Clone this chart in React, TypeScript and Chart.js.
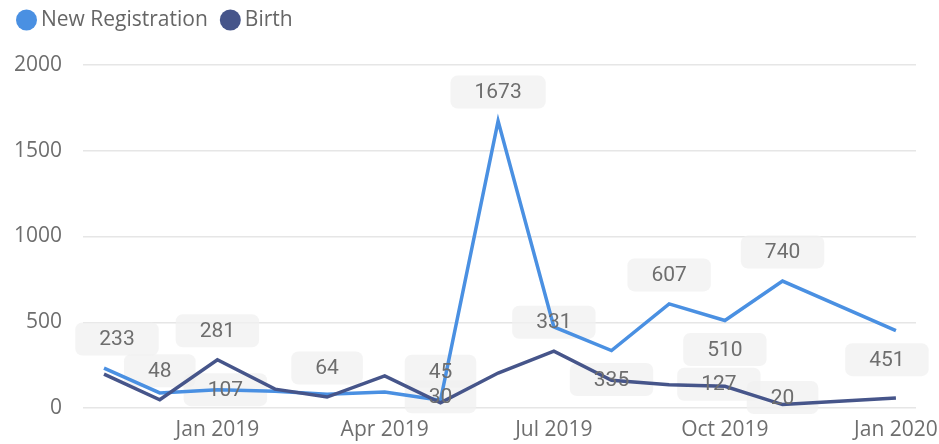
import React, { useEffect, useRef } from 'react';
import { Chart, registerables } from 'chart.js';

Chart.register(...registerables);

// ---- data ----
const months = [
  '2018-11', '2018-12', '2019-01', '2019-02', '2019-03', '2019-04', '2019-05',
  '2019-06', '2019-07', '2019-08', '2019-09', '2019-10', '2019-11', '2020-01',
];
const newRegistration = [233, 88, 107, 98, 80, 93, 45, 1673, 473, 335, 607, 510, 740, 451];
const birth = [197, 48, 281, 110, 64, 187, 30, 204, 331, 162, 135, 127, 20, 58];
const seriesNames = ['New Registration', 'Birth'];
const yTickValues = [0, 500, 1000, 1500, 2000];
const xTickMonths = ['2019-01', '2019-04', '2019-07', '2019-10', '2020-01'];
const xTickLabels = ['Jan 2019', 'Apr 2019', 'Jul 2019', 'Oct 2019', 'Jan 2020'];

// ---- style ----
const COLORS = ['#4a90e2', '#46558a'];
const TEXT = '#6e6e6e';
const DAY = 86400000;
const toTime = (m: string) => {
  const [y, mo] = m.split('-').map(Number);
  return Date.UTC(y, mo - 1, 1);
};

// which point labels are shown and how they are placed (style only)
const LABELS: { ds: number; i: number; place: 'above' | 'below' | 'center'; dx?: number; dy?: number }[] = [
  { ds: 0, i: 0, place: 'above', dx: 13 },
  { ds: 1, i: 1, place: 'above' },
  { ds: 1, i: 2, place: 'above' },
  { ds: 0, i: 2, place: 'center', dx: 8 },
  { ds: 1, i: 4, place: 'above' },
  { ds: 0, i: 6, place: 'above' },
  { ds: 1, i: 6, place: 'center', dy: -6 },
  { ds: 0, i: 7, place: 'above' },
  { ds: 1, i: 8, place: 'above' },
  { ds: 0, i: 9, place: 'below' },
  { ds: 0, i: 10, place: 'above' },
  { ds: 0, i: 11, place: 'below' },
  { ds: 1, i: 11, place: 'center', dx: -6, dy: -2 },
  { ds: 0, i: 12, place: 'above' },
  { ds: 1, i: 12, place: 'center', dy: -7 },
  { ds: 0, i: 13, place: 'below', dx: -9 },
];
const LABEL_FONT = '400 21px Roboto';
const BOX_H = 33;
const BOX_PAD = 24;

function labelRects(chart: any) {
  const ctx = chart.ctx;
  ctx.save();
  ctx.font = LABEL_FONT;
  const out = LABELS.map((l) => {
    const el = chart.getDatasetMeta(l.ds).data[l.i];
    const value = chart.data.datasets[l.ds].data[l.i].y;
    const text = String(value);
    const w = ctx.measureText(text).width + BOX_PAD * 2;
    const off = l.place === 'above' ? -29 : l.place === 'below' ? 29 : 0;
    const cx = el.x + (l.dx || 0);
    const cy = el.y + off + (l.dy || 0);
    return { text, cx, cy, w };
  });
  ctx.restore();
  return out;
}

function roundRect(ctx: CanvasRenderingContext2D, x: number, y: number, w: number, h: number, r: number) {
  ctx.beginPath();
  ctx.moveTo(x + r, y);
  ctx.lineTo(x + w - r, y);
  ctx.arcTo(x + w, y, x + w, y + r, r);
  ctx.lineTo(x + w, y + h - r);
  ctx.arcTo(x + w, y + h, x + w - r, y + h, r);
  ctx.lineTo(x + r, y + h);
  ctx.arcTo(x, y + h, x, y + h - r, r);
  ctx.lineTo(x, y + r);
  ctx.arcTo(x, y, x + r, y, r);
  ctx.closePath();
}

const labelPlugin = {
  id: 'pointLabels',
  beforeDatasetsDraw(chart: any) {
    const ctx = chart.ctx;
    ctx.save();
    ctx.fillStyle = 'rgba(240,240,240,0.75)';
    for (const r of labelRects(chart)) {
      roundRect(ctx, r.cx - r.w / 2, r.cy - BOX_H / 2, r.w, BOX_H, 7);
      ctx.fill();
    }
    ctx.restore();
  },
  afterDatasetsDraw(chart: any) {
    const ctx = chart.ctx;
    ctx.save();
    ctx.font = LABEL_FONT;
    ctx.fillStyle = TEXT;
    ctx.textAlign = 'center';
    ctx.textBaseline = 'middle';
    for (const r of labelRects(chart)) {
      ctx.fillText(r.text, r.cx, r.cy + 1);
    }
    ctx.restore();
  },
  afterDraw(chart: any) {
    // legend
    const ctx = chart.ctx;
    ctx.save();
    ctx.font = '21px "Open Sans"';
    ctx.textBaseline = 'middle';
    ctx.textAlign = 'left';
    let x = 16;
    const y = 20;
    seriesNames.forEach((name, k) => {
      ctx.fillStyle = COLORS[k];
      ctx.beginPath();
      ctx.arc(x + 10.5, y, 10.5, 0, Math.PI * 2);
      ctx.fill();
      ctx.fillStyle = '#666';
      ctx.fillText(name, x + 25, y);
      x += 25 + ctx.measureText(name).width + 12;
    });
    ctx.restore();
  },
};

export default function App() {
  const ref = useRef<HTMLCanvasElement>(null);
  useEffect(() => {
    if (!ref.current) return;
    const times = months.map(toTime);
    const mk = (vals: number[]) => vals.map((v, i) => ({ x: times[i], y: v }));
    const tickFont = { family: '"Open Sans"', size: 21 };
    const chart = new Chart(ref.current, {
      type: 'line',
      data: {
        datasets: [
          {
            label: seriesNames[0],
            data: mk(newRegistration),
            borderColor: COLORS[0],
            backgroundColor: COLORS[0],
            borderWidth: 3.5,
            pointRadius: 0,
            tension: 0,
            order: 1,
          },
          {
            label: seriesNames[1],
            data: mk(birth),
            borderColor: COLORS[1],
            backgroundColor: COLORS[1],
            borderWidth: 3.5,
            pointRadius: 0,
            tension: 0,
            order: 0,
          },
        ],
      },
      options: {
        animation: false,
        responsive: false,
        layout: { padding: { top: 65, right: 23, bottom: 0, left: 0 } },
        plugins: { legend: { display: false }, tooltip: { enabled: false } },
        scales: {
          x: {
            type: 'linear',
            min: toTime(months[0]) - 11.3 * DAY,
            max: toTime(months[months.length - 1]) + 10.8 * DAY,
            grid: { display: false, drawTicks: false },
            border: { display: false },
            ticks: {
              color: TEXT,
              font: tickFont,
              padding: 9,
              maxRotation: 0,
              autoSkip: false,
              callback: (_v: any, i: number) => xTickLabels[i],
            },
            afterBuildTicks: (s: any) => {
              s.ticks = xTickMonths.map((m) => ({ value: toTime(m) }));
            },
            afterFit: (s: any) => {
              s.height = 36;
              s.paddingLeft = 0;
              s.paddingRight = 0;
            },
          },
          y: {
            min: 0,
            max: 2000,
            grid: { color: '#e6e6e6', lineWidth: 1.5, drawTicks: false },
            border: { display: false },
            ticks: {
              color: TEXT,
              font: tickFont,
              padding: 21,
              callback: (v: any) => String(v),
            },
            afterBuildTicks: (s: any) => {
              s.ticks = yTickValues.map((v) => ({ value: v }));
            },
            afterFit: (s: any) => {
              s.width = 83;
              s.paddingTop = 0;
              s.paddingBottom = 0;
            },
          },
        },
      },
      plugins: [labelPlugin],
    } as any);
    return () => chart.destroy();
  }, []);
  return (
    <div style={{ position: 'fixed', left: 0, top: 0, width: 939, height: 444, background: '#fff' }}>
      <canvas ref={ref} width={939} height={444} style={{ display: 'block' }} />
    </div>
  );
}
